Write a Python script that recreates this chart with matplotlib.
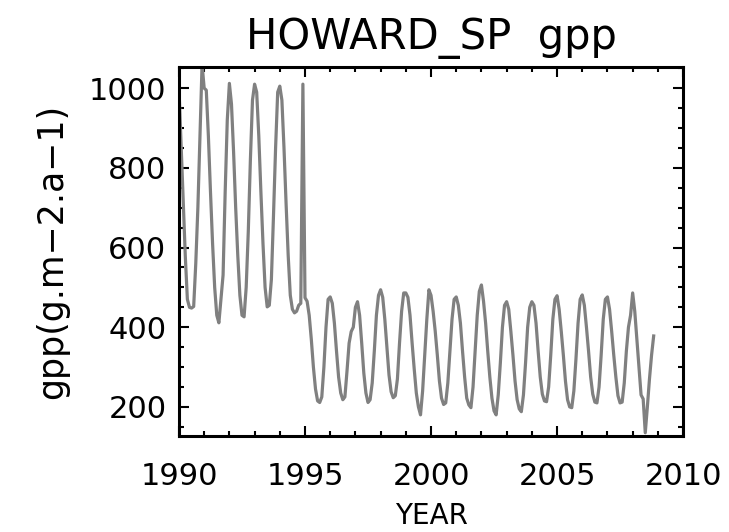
import numpy as np
import matplotlib.pyplot as plt
from matplotlib.ticker import MultipleLocator

# monthly gpp values, one row per year (Jan..Dec)
start_year = 1990
gpp_early = [
    [1000, 860, 720, 580, 470, 450, 448, 452, 560, 700, 880, 1060],  # 1990
    [1000, 995, 880, 740, 610, 500, 430, 411, 470, 531, 740, 920],   # 1991
    [1012, 960, 840, 700, 580, 480, 430, 426, 500, 640, 820, 970],   # 1992
    [1010, 990, 880, 740, 610, 500, 451, 455, 520, 680, 850, 990],   # 1993
    [1005, 970, 850, 710, 580, 480, 445, 436, 440, 455, 460, 1010],  # 1994
]
gpp_late = [
    [474, 465, 430, 370, 300, 245, 215, 211, 225, 300, 400, 470],    # 1995
    [476, 460, 410, 340, 275, 235, 218, 225, 290, 360, 389, 400],    # 1996
    [450, 464, 430, 360, 285, 235, 211, 218, 260, 340, 430, 480],    # 1997
    [494, 475, 420, 350, 280, 238, 223, 228, 270, 360, 440, 486],    # 1998
    [486, 475, 430, 360, 295, 235, 200, 180, 240, 330, 420, 494],    # 1999
    [480, 440, 390, 330, 265, 222, 206, 210, 260, 340, 420, 470],    # 2000
    [476, 455, 410, 340, 275, 222, 205, 198, 250, 340, 430, 490],    # 2001
    [506, 465, 410, 340, 275, 222, 190, 180, 230, 310, 400, 455],    # 2002
    [464, 445, 390, 330, 265, 218, 195, 188, 230, 310, 400, 450],    # 2003
    [464, 455, 410, 340, 275, 232, 215, 213, 250, 330, 420, 470],    # 2004
    [479, 445, 390, 330, 265, 218, 200, 198, 240, 320, 410, 470],    # 2005
    [481, 455, 400, 340, 275, 232, 212, 210, 250, 330, 420, 470],    # 2006
    [476, 445, 390, 330, 275, 228, 210, 212, 260, 340, 400, 430],    # 2007
    [486, 440, 370, 300, 230, 220, 135, 200, 270, 330, 378],         # 2008
]

values = []
times = []
for i, row in enumerate(gpp_early + gpp_late):
    for m, v in enumerate(row):
        times.append(start_year + i + m / 12.0)
        values.append(v)

plt.rcParams['font.family'] = 'DejaVu Sans'

fig = plt.figure(figsize=(7.29, 5.32), dpi=100)
ax = fig.add_axes([0.2455, 0.1805, 0.6915, 0.6935])

ax.plot(times, values, color='#808080', lw=2.3)

ax.set_xlim(1990, 2010)
ax.set_ylim(127, 1053)
ax.xaxis.set_major_locator(MultipleLocator(5))
ax.xaxis.set_minor_locator(MultipleLocator(1))
ax.yaxis.set_major_locator(MultipleLocator(200))
ax.yaxis.set_minor_locator(MultipleLocator(50))

ax.tick_params(which='both', direction='in', top=True, right=True, width=1.5)
ax.tick_params(which='major', length=7.5)
ax.tick_params(which='minor', length=3.8)
ax.tick_params(axis='x', labelsize=22, pad=19)
ax.tick_params(axis='y', labelsize=22, pad=9)
for s in ax.spines.values():
    s.set_linewidth(2.2)

ax.set_title('HOWARD_SP  gpp', fontsize=30, pad=13)
ax.set_xlabel('YEAR', fontsize=20, labelpad=8)
ax.set_ylabel('gpp(g.m\u22122.a\u22121)', fontsize=25, labelpad=14)

fig.savefig('out.png', dpi=100)
